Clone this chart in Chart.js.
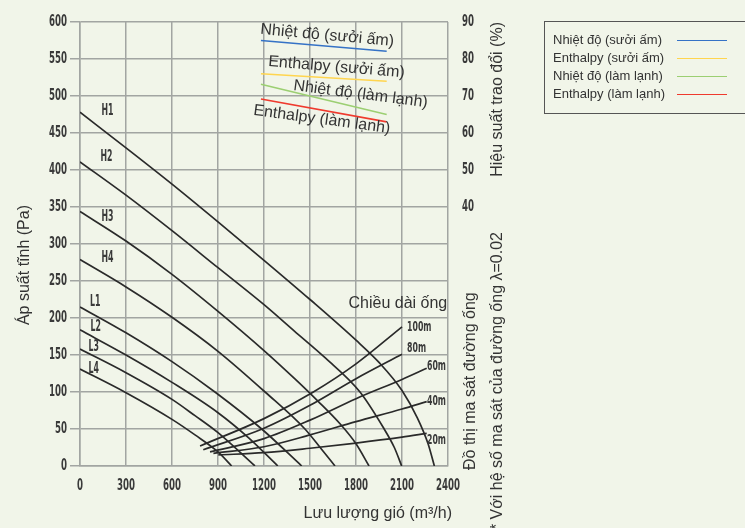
<!DOCTYPE html>
<html>
<head>
<meta charset="utf-8">
<script src="https://cdn.jsdelivr.net/npm/chart.js@4"></script>
<style>
  html, body { margin: 0; padding: 0; background: #f1f5e9; }
  #wrap { position: relative; width: 745px; height: 528px; overflow: hidden; }
  #legend {
    position: absolute; left: 544px; top: 21px; width: 215px; height: 93px;
    border: 1px solid #555; box-sizing: border-box;
    font: 13px 'Liberation Sans', Arial, sans-serif; color: #333;
  }
  .row { position: absolute; left: 8px; width: 200px; height: 16px; line-height: 16px; white-space: nowrap; }
  .swatch { position: absolute; left: 124px; top: 8px; width: 50px; border-top: 1.5px solid; }
</style>
</head>
<body>
<div id="wrap">
  <canvas id="chart" width="745" height="528"></canvas>
  <div id="legend"></div>
</div>
<script>
// fan curves: [flow m3/h, static pressure Pa]
const H1 = [[0,478],[300,430],[600,381],[900,330],[1200,278],[1500,225],[1800,170],[1950,140],[2100,102],[2200,65],[2270,30],[2311,0]];
const H2 = [[0,411],[300,366],[600,318],[900,268],[1200,218],[1400,182],[1600,146],[1826,100],[1978,52],[2050,25],[2098,0]];
const H3 = [[0,344],[300,304],[600,259],[900,209],[1200,156],[1400,118],[1550,88],[1700,56],[1800,30],[1885,0]];
const H4 = [[0,279],[300,242],[600,201],[900,155],[1207,100],[1467,50],[1570,24],[1663,0]];
const L1 = [[0,215],[300,180],[600,141],[880,100],[1185,50],[1446,0]];
const L2 = [[0,184],[300,150],[600,113],[900,72],[1100,38],[1290,0]];
const L3 = [[0,158],[300,126],[600,90],[750,68],[900,45],[1141,0]];
const L4 = [[0,131],[300,99],[600,63],[750,42],[900,19],[989,0]];
const fanNames = ["H1","H2","H3","H4","L1","L2","L3","L4"];
// label anchors for fan curves [flow, Pa]
const fanLabelPos = [[179,479],[173,417],[179,337],[179,281],[100,221],[102,188],[90,161],[90,131]];

// duct friction curves (pipe length)
const P100 = [[783,27],[1200,64],[1522,100],[1800,138],[2100,188]];
const P80 = [[804,22],[1200,51],[1500,82],[1800,118],[2100,151]];
const P60 = [[848,19],[1200,37],[1500,62],[1800,91],[2100,117],[2261,132]];
const P40 = [[870,17],[1200,26],[1500,42],[1800,60],[2100,77],[2261,87]];
const P20 = [[902,15],[1200,18],[1500,24],[1800,31],[2100,39],[2261,44]];
const pipeNames = ["100m","80m","60m","40m","20m"];
const pipeLabelPos = [[2133,188],[2133,159],[2263,135],[2263,88],[2263,35]];

// exchange efficiency (%), right axis
const effFlow = [1180, 2000];
const heatTemp = [85.0, 82.1];
const heatEnth = [76.0, 74.0];
const coolTemp = [73.2, 65.0];
const coolEnth = [69.2, 63.0];
const effNames = ["Nhiệt độ (sưởi ấm)", "Enthalpy (sưởi ấm)", "Nhiệt độ (làm lạnh)", "Enthalpy (làm lạnh)"];
const effColors = ["#3572c6", "#ffd54f", "#9ccf72", "#ef3a2e"];
// [flow, %, angle deg] for the slanted line labels
const effLabelPos = [[1174,86.8,5.2],[1226,78.1,4.7],[1389,71.6,7.3],[1128,64.9,7.6]];

const xTicks = [0, 2400, 300];
const yTicks = [0, 600, 50];
const effTicks = [-30, 90, 10, 40]; // min, max, step, first shown

const COND = "'DejaVu Sans Condensed', 'DejaVu Sans', sans-serif";
const SANS = "'Liberation Sans', Arial, sans-serif";
const GRID = "#a2a5a2";
const INK = "#2a2a2a";

function pts(arr) {
  return arr.map(p => ({ x: p[0], y: p[1] }));
}

const fanSets = [H1, H2, H3, H4, L1, L2, L3, L4].map((c, i) => ({
  label: fanNames[i], data: pts(c), borderColor: INK, borderWidth: 1.7,
  pointRadius: 0, cubicInterpolationMode: "monotone", fill: false, yAxisID: "y"
}));
const pipeSets = [P100, P80, P60, P40, P20].map((c, i) => ({
  label: pipeNames[i], data: pts(c), borderColor: INK, borderWidth: 1.7,
  pointRadius: 0, cubicInterpolationMode: "monotone", fill: false, yAxisID: "y"
}));
const effSets = [heatTemp, heatEnth, coolTemp, coolEnth].map((v, i) => ({
  label: effNames[i], data: effFlow.map((f, k) => ({ x: f, y: v[k] })),
  borderColor: effColors[i], borderWidth: 1.6, pointRadius: 0, fill: false, yAxisID: "y2"
}));

// HTML legend built from the series
const legend = document.getElementById("legend");
effNames.forEach((n, i) => {
  const row = document.createElement("div");
  row.className = "row";
  row.style.top = [10, 28, 46, 64][i] + "px";
  row.textContent = n;
  const sw = document.createElement("div");
  sw.className = "swatch";
  sw.style.borderTopColor = effColors[i];
  row.appendChild(sw);
  legend.appendChild(row);
});

// narrow text (the chart uses a condensed face)
function narrow(ctx, t, px, py, align, sx) {
  ctx.save();
  ctx.translate(px, py);
  ctx.scale(sx, 1);
  ctx.textAlign = align;
  ctx.fillText(t, 0, 0);
  ctx.restore();
}

// ========== TEXT ON THE CHART ==========
const textPlugin = {
  id: "texts",
  afterDraw(chart) {
    const { ctx, chartArea, scales: { x, y, y2 } } = chart;
    ctx.save();
    ctx.fillStyle = "#3a3a3a";
    ctx.textBaseline = "middle";

    // tick labels, from the library's ticks
    ctx.font = "bold 16px " + COND;
    x.ticks.forEach(t => narrow(ctx, String(t.value), x.getPixelForValue(t.value), chartArea.bottom + 20, "center", 0.6));
    y.ticks.forEach(t => narrow(ctx, String(t.value), chartArea.left - 13, y.getPixelForValue(t.value), "right", 0.6));
    y2.ticks.filter(t => t.value >= effTicks[3]).forEach(t =>
      narrow(ctx, String(t.value), chartArea.right + 14, y2.getPixelForValue(t.value), "left", 0.6));

    // fan curve names
    ctx.font = "bold 15px " + COND;
    fanLabelPos.forEach((p, i) => {
      narrow(ctx, fanNames[i], x.getPixelForValue(p[0]), y.getPixelForValue(p[1]), "center", 0.58);
    });

    // pipe length labels
    ctx.font = "bold 14px " + COND;
    pipeLabelPos.forEach((p, i) => {
      narrow(ctx, pipeNames[i], x.getPixelForValue(p[0]), y.getPixelForValue(p[1]), "left", 0.62);
    });

    ctx.fillStyle = "#333";
    ctx.font = "16px " + SANS;
    ctx.textAlign = "right";
    ctx.fillText("Chiều dài ống", x.getPixelForValue(2395), y.getPixelForValue(220));

    // slanted efficiency labels
    ctx.textAlign = "left";
    ctx.textBaseline = "alphabetic";
    effLabelPos.forEach((p, i) => {
      ctx.save();
      ctx.translate(x.getPixelForValue(p[0]), y2.getPixelForValue(p[1]));
      ctx.rotate(p[2] * Math.PI / 180);
      ctx.fillText(effNames[i], 0, 0);
      ctx.restore();
    });

    // axis titles
    ctx.textAlign = "right";
    ctx.fillText("Lưu lượng gió (m³/h)", 452, 518);

    function vtext(t, px, py, align) {
      ctx.save();
      ctx.translate(px, py);
      ctx.rotate(-Math.PI / 2);
      ctx.textAlign = align;
      ctx.fillText(t, 0, 0);
      ctx.restore();
    }
    vtext("Áp suất tĩnh (Pa)", 29, 205, "right");
    vtext("Hiệu suất trao đổi (%)", 502, 22, "right");
    vtext("Đồ thị ma sát đường ống", 475, 470, "left");
    vtext("* Với hệ số ma sát của đường ống λ=0.02", 502, 232, "right");
    ctx.restore();
  }
};

new Chart(document.getElementById("chart"), {
  type: "line",
  data: { datasets: [...fanSets, ...pipeSets, ...effSets] },
  options: {
    responsive: false,
    animation: false,
    layout: { padding: { top: 22, left: 0, right: 0, bottom: 0 } },
    plugins: { legend: { display: false }, tooltip: { enabled: false } },
    scales: {
      x: {
        type: "linear",
        min: xTicks[0], max: xTicks[1],
        afterFit: s => { s.height = 62; },
        border: { display: true, color: GRID, width: 1.5 },
        grid: { color: GRID, lineWidth: 1.5, drawTicks: false },
        ticks: { stepSize: xTicks[2], display: false }
      },
      y: {
        position: "left",
        min: yTicks[0], max: yTicks[1],
        afterFit: s => { s.width = 80; },
        border: { display: true, color: GRID, width: 1.5 },
        grid: { color: GRID, lineWidth: 1.5, tickLength: 10 },
        ticks: { stepSize: yTicks[2], display: false }
      },
      y2: {
        position: "right",
        min: effTicks[0], max: effTicks[1],
        afterFit: s => { s.width = 297; },
        border: { display: false },
        grid: { drawOnChartArea: false, drawTicks: false },
        ticks: { stepSize: effTicks[2], display: false }
      }
    }
  },
  plugins: [textPlugin]
});
</script>
</body>
</html>
